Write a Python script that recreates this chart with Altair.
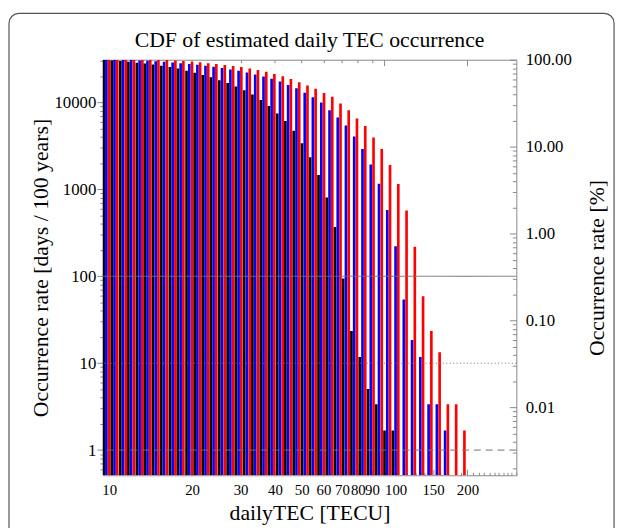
import json
import math
import altair as alt
import pandas as pd

# ---------------- data ----------------
tec_bins = [10.0, 10.7, 11.5, 12.3, 13.2, 14.1, 15.1, 16.2, 17.4, 18.6,
            20.0, 21.4, 22.9, 24.5, 26.3, 28.2, 30.2, 32.4, 34.7, 37.2,
            39.8, 42.7, 45.7, 49.0, 52.5, 56.2, 60.3, 64.6, 69.2, 74.1,
            79.4, 85.1, 91.2, 97.7, 104.7, 112.2, 120.2, 128.8, 138.0, 147.9,
            158.5, 169.8, 182.0, 195.0]

black_days = [31000, 30400, 29900, 29400, 28600, 28100, 27400, 26500, 25500, 24500,
              23200, 22000, 20700, 19500, 18000, 16700, 15300, 13800, 12300, 10700,
              9120, 7460, 6110, 4710, 3400, 2340, 1460, 807, 368, 94,
              23.5, 11.8, 5.04, 3.36, 1.68, 1.68]

blue_days = [31000, 31000, 31000, 31000, 30400, 30100, 29700, 29300, 28800, 28300,
             27700, 27100, 26400, 25700, 24900, 24000, 23100, 22100, 21000, 19900,
             18700, 17400, 15900, 14600, 12900, 11500, 9950, 8150, 6710, 5410,
             4060, 2910, 1930, 1160, 580, 222, 54, 18.5, 11.8, 3.36,
             3.36, 1.68]

red_days = [31000, 31000, 31000, 31000, 31000, 31000, 31000, 30700, 30300, 29900,
            29400, 28900, 28300, 27700, 27000, 26300, 25500, 24600, 23600, 22500,
            21300, 20000, 18600, 17100, 15700, 14400, 12800, 11600, 9700, 8150,
            6550, 5370, 3950, 2910, 1900, 1150, 570, 218, 59, 23.5,
            13.4, 3.36, 3.36, 1.68]

series_names = ["black", "blue", "red"]
series_colors = ["#000000", "#0000ff", "#ff0000"]

x_label_values = [10, 20, 30, 40, 50, 60, 70, 80, 90, 100, 150, 200]
x_bottom_ticks = [10, 20, 30, 40, 50, 60, 70, 80, 90, 100, 110, 120, 130, 140, 150,
                  160, 170, 180, 190, 200, 210, 220, 230, 240, 250, 260, 270, 280, 290, 300]
x_top_ticks = [10, 20, 30, 40, 50, 60, 70, 80, 90, 100, 200]
x_top_major = [10, 100, 200]

y_major_days = [1, 10, 100, 1000, 10000]
y_minor_days = [0.6, 0.7, 0.8, 0.9,
                2, 3, 4, 5, 6, 7, 8, 9,
                20, 30, 40, 50, 60, 70, 80, 90,
                200, 300, 400, 500, 600, 700, 800, 900,
                2000, 3000, 4000, 5000, 6000, 7000, 8000, 9000,
                20000, 30000]

pct_major = [100, 10, 1, 0.1, 0.01]
pct_minor_mult = [2, 3, 4, 5, 6, 7, 8, 9]
pct_minor_decades = [0.001, 0.01, 0.1, 1, 10]
days_per_percent = 310

hline_days = [100, 10, 1]
hline_kinds = ["solid", "dotted", "dashed"]

# ---------------- layout constants ----------------
W, H = 419, 421
SHIFT = {"black": -0.02, "blue": -0.01, "red": 0.0}
HALF = 0.0048
FONT = "Liberation Serif"

rows = []
for name, vals in zip(series_names, [black_days, blue_days, red_days]):
    for tec, v in zip(tec_bins, vals):
        lc = math.log10(tec) + SHIFT[name]
        rows.append({"series": name, "tec": tec, "value": v,
                     "lo": 10 ** (lc - HALF), "hi": 10 ** (lc + HALF)})
bars_df = pd.DataFrame(rows)
hl_df = pd.DataFrame({"days": hline_days, "kind": hline_kinds})

pct_major_days = [round(p * days_per_percent, 6) for p in pct_major]
pct_minor_days = [round(m * d * days_per_percent, 6) for d in pct_minor_decades for m in pct_minor_mult]
right_vals = sorted(pct_major_days + pct_minor_days)
left_vals = sorted(y_major_days + y_minor_days)

xscale = alt.Scale(type="log", domain=[9.48, 301], nice=False)
yscale = alt.Scale(type="log", domain=[0.513, 31000], nice=False)


def cond(major, big, small):
    return {"condition": {"test": f"indexof({json.dumps(major)}, datum.value) >= 0", "value": big},
            "value": small}


bars = alt.Chart(bars_df).mark_bar(clip=True).encode(
    x=alt.X("lo:Q", scale=xscale,
            axis=alt.Axis(orient="bottom", values=x_label_values, ticks=False, domain=False,
                          labelExpr="format(datum.value, 'd')", labelOverlap=False,
                          labelAlign={"condition": {"test": "datum.value == 100", "value": "left"},
                                      "value": "center"},
                          labelFontSize=15, labelPadding=7, title="dailyTEC [TECU]",
                          titleFontSize=22, titlePadding=6)),
    x2="hi:Q",
    y=alt.Y("value:Q", scale=yscale,
            axis=alt.Axis(orient="left", values=left_vals, domain=False,
                          tickSize=cond(y_major_days, 6, 3),
                          labelExpr=f"indexof({json.dumps(y_major_days)}, datum.value) >= 0 ? format(datum.value, 'd') : ''",
                          labelOverlap=False, labelFontSize=17, labelPadding=1,
                          title="Occurrence rate [days / 100 years]",
                          titleFontSize=22, titlePadding=1)),
    y2=alt.value(H),
    color=alt.Color("series:N", scale=alt.Scale(domain=series_names, range=series_colors), legend=None),
)

rules = alt.Chart(hl_df).mark_rule(color="#707070", strokeWidth=1).encode(
    y=alt.Y("days:Q", scale=yscale, axis=None),
    strokeDash=alt.StrokeDash("kind:N",
                              scale=alt.Scale(domain=hline_kinds, range=[[1, 0], [1, 2.5], [7, 5]]),
                              legend=None),
)

ticks_in = alt.Chart(bars_df).mark_point(opacity=0).encode(
    x=alt.X("lo:Q", scale=xscale,
            axis=alt.Axis(orient="top", offset=-H, values=x_bottom_ticks, labels=False,
                          domain=False, title=None, tickSize=cond(x_label_values, 6, 3))),
    y=alt.Y("value:Q", scale=yscale,
            axis=alt.Axis(orient="left", offset=-W, values=right_vals, labels=False,
                          domain=False, title=None, tickSize=cond(pct_major_days, 7, 4))),
)

right_axis = alt.Chart(bars_df).mark_point(opacity=0).encode(
    x=alt.X("lo:Q", scale=xscale,
            axis=alt.Axis(orient="bottom", offset=-H, values=x_top_ticks, labels=False,
                          domain=False, title=None, tickSize=cond(x_top_major, 6, 3))),
    y=alt.Y("value:Q", scale=yscale,
            axis=alt.Axis(orient="right", values=pct_major_days, ticks=False, domain=False,
                          labelExpr=f"format(datum.value / {days_per_percent}, '.2f')",
                          labelOverlap=False, labelFontSize=17, labelPadding=9,
                          title="Occurrence rate [%]", titleAngle=270, titleBaseline="top",
                          titleFontSize=22, titlePadding=16)),
)

frame = alt.Chart(pd.DataFrame({"f": [0]})).mark_rect(
    filled=False, cornerRadius=10, stroke="#555555", strokeWidth=1.2, clip=False
).encode(x=alt.value(-95), x2=alt.value(518), y=alt.value(-47), y2=alt.value(H + 120))

chart = alt.layer(bars, rules, ticks_in, right_axis, frame).resolve_axis(
    x="independent", y="independent"
).properties(
    width=W, height=H,
    title=alt.TitleParams("CDF of estimated daily TEC occurrence", font=FONT, fontSize=22,
                          fontWeight="normal", color="#000000", anchor="middle",
                          baseline="alphabetic", offset=-57),
    padding={"left": 96, "top": 49, "right": 104, "bottom": 50},
    autosize=alt.AutoSizeParams(type="none"),
).configure_view(stroke="#888888", strokeWidth=1).configure_axis(
    grid=False, labelFont=FONT, titleFont=FONT, labelColor="#000000", titleColor="#000000",
    titleFontWeight="normal", tickColor="#888888", labelFlush=False,
)

chart.save("out.html", embed_options={"renderer": "svg", "actions": False})
